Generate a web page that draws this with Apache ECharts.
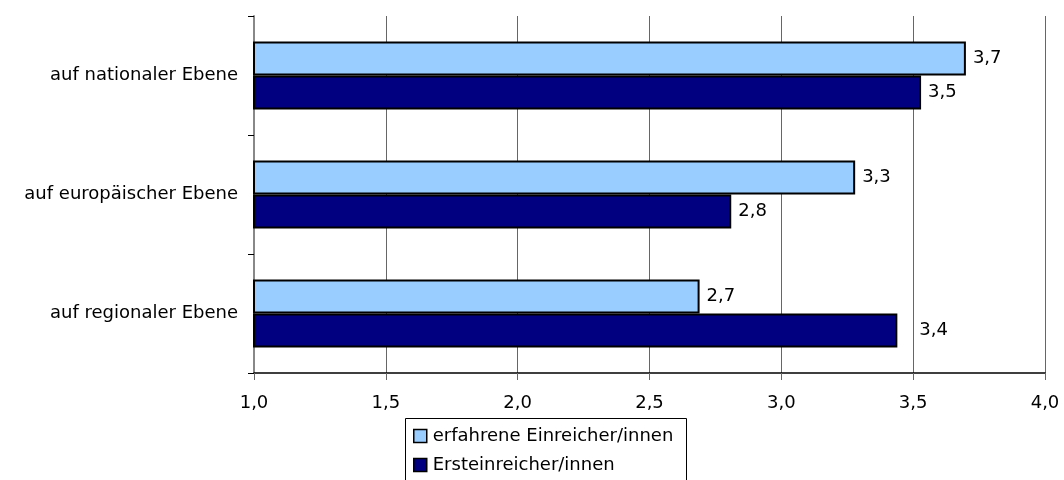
<!DOCTYPE html>
<html>
<head>
<meta charset="utf-8">
<script src="https://cdn.jsdelivr.net/npm/echarts@6/dist/echarts.min.js"></script>
<style>
  html, body { margin: 0; padding: 0; background: #fff; }
  #chart { width: 1064px; height: 480px; }
</style>
</head>
<body>
<div id="chart"></div>
<script>
// Levels, listed top to bottom
const categories = ['auf nationaler Ebene', 'auf europäischer Ebene', 'auf regionaler Ebene'];
const seriesNames = ['erfahrene Einreicher/innen', 'Ersteinreicher/innen'];
const experienced = [3.70, 3.28, 2.69];
const firstTime = [3.53, 2.81, 3.44];
const xTicks = [1.0, 1.5, 2.0, 2.5, 3.0, 3.5, 4.0];

const fmt = v => Number(v).toFixed(1).replace('.', ',');
const FONT = 'DejaVu Sans, Liberation Sans, Arial, sans-serif';
const FS = 18;

const chart = echarts.init(document.getElementById('chart'), null, { renderer: 'canvas' });

function barSeries(name, values, color, distances) {
  return {
    name: name,
    type: 'bar',
    barWidth: 34,
    barGap: '0%',
    data: values.map((v, i) => ({
      value: v,
      label: { distance: distances[i] }
    })),
    itemStyle: { color: color, borderColor: '#000', borderWidth: 2 },
    label: {
      show: true,
      position: 'right',
      color: '#000',
      fontFamily: FONT,
      fontSize: FS,
      formatter: p => fmt(p.value)
    }
  };
}

chart.setOption({
  animation: false,
  backgroundColor: '#fff',
  textStyle: { fontFamily: FONT },
  grid: { left: 254, right: 19, top: 16, bottom: 107, containLabel: false },
  xAxis: {
    type: 'value',
    min: xTicks[0],
    max: xTicks[xTicks.length - 1],
    interval: 0.5,
    axisLine: { show: true, lineStyle: { color: '#000', width: 1.5 } },
    axisTick: { show: true, length: 7, lineStyle: { color: '#666' } },
    splitLine: { show: true, lineStyle: { color: '#666', width: 1 } },
    axisLabel: { color: '#000', fontSize: FS, fontFamily: FONT, margin: 21, formatter: v => fmt(v) }
  },
  yAxis: {
    type: 'category',
    inverse: true,
    data: categories,
    axisLine: { show: true, lineStyle: { color: '#888', width: 2 } },
    axisTick: { show: true, length: 6, lineStyle: { color: '#000' } },
    axisLabel: { color: '#000', fontSize: FS, fontFamily: FONT, margin: 16 },
    splitLine: { show: false }
  },
  // Legend frame: runs past the bottom edge of the canvas
  graphic: [{
    type: 'rect',
    left: 405,
    top: 418,
    shape: { width: 281, height: 90 },
    style: { fill: '#fff', stroke: '#000', lineWidth: 1 },
    z: 0
  }],
  legend: {
    orient: 'vertical',
    left: 405,
    top: 418,
    itemWidth: 13,
    itemHeight: 13,
    itemGap: 11,
    padding: [9, 2, 2, 8],
    icon: 'rect',
    z: 5,
    textStyle: { color: '#000', fontSize: FS, fontFamily: FONT, padding: [0, 0, 0, 1] },
    data: seriesNames.map(n => ({ name: n, itemStyle: { borderColor: '#000', borderWidth: 1.5 } }))
  },
  series: [
    barSeries(seriesNames[0], experienced, '#99CCFF', [7, 7, 7]),
    barSeries(seriesNames[1], firstTime, '#000080', [7, 7, 22])
  ]
});
</script>
</body>
</html>
